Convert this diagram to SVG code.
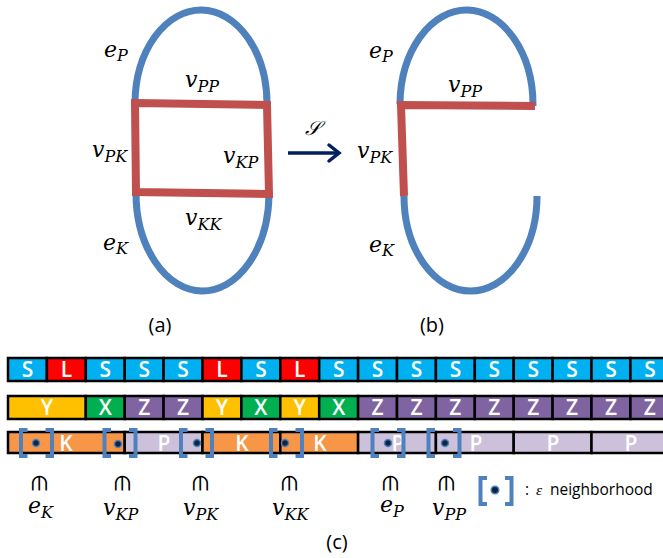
<svg xmlns="http://www.w3.org/2000/svg" width="663" height="558" viewBox="0 0 663 558">
<style>
.blue{fill:none;stroke:#4F81BD;stroke-width:7}
.red{fill:none;stroke:#C0504D;stroke-width:8;stroke-linejoin:miter}
.m{font-family:"DejaVu Serif","Liberation Serif",serif;font-style:italic;font-size:22px;fill:#000}
.s{font-size:16px}
.lab{font-family:"Open Sans","Liberation Sans",sans-serif;font-size:20px;fill:#000}
.leg{font-family:"Open Sans","Liberation Sans",sans-serif;font-size:15.5px;fill:#000}
.eps{font-family:"Liberation Serif",serif;font-style:italic}
.cell{stroke:#000;stroke-width:2.5}
.ct{font-family:"Open Sans","Liberation Sans",sans-serif;font-weight:600;font-size:21px;fill:#fff;text-anchor:middle}
.S{fill:#00B0F0}.L{fill:#FF0000}.Y{fill:#FFC000}.X{fill:#00B050}.Z{fill:#8064A2}.K{fill:#F79646}.P{fill:#CCC0DA}
.br{fill:none;stroke:#4F81BD;stroke-width:4}
.dot{fill:#0F243E;stroke:#4F81BD;stroke-width:1.5}
.el{font-family:"DejaVu Sans",sans-serif;font-size:21px;fill:#000;text-anchor:middle}
</style>
<defs>
<path id="brk" class="br" d="M-9,-13 H-15.5 V13 H-9 M9,-13 H15.5 V13 H9"/>
</defs>

<g id="panel-a">
  <path class="blue" d="M135,103 A66,94 0 0 1 267,105"/>
  <path class="blue" d="M136,192 A66.5,98 0 0 0 269,194"/>
  <polygon class="red" points="135,103 267,105 269,194 136,192"/>
  <text class="m" x="104" y="57">e<tspan class="s" dy="4">P</tspan></text>
  <text class="m" x="185" y="87">v<tspan class="s" dy="5">PP</tspan></text>
  <text class="m" x="92" y="157">v<tspan class="s" dy="5">PK</tspan></text>
  <text class="m" x="223" y="163">v<tspan class="s" dy="5">KP</tspan></text>
  <text class="m" x="185" y="225">v<tspan class="s" dy="5">KK</tspan></text>
  <text class="m" x="103" y="250">e<tspan class="s" dy="4">K</tspan></text>
  <text class="lab" x="160" y="332" text-anchor="middle">(a)</text>
</g>

<g id="connectors">
  <path d="M288,153 H338" stroke="#002060" stroke-width="3.5" fill="none"/>
  <path d="M329,145 L339,153 L329,161" stroke="#002060" stroke-width="3.5" fill="none" stroke-linecap="round"/>
  <text class="m" x="305" y="135" style="font-size:20px">𝒮</text>
</g>

<g id="panel-b">
  <path class="blue" d="M400,104 A66.5,95 0 0 1 533,106"/>
  <path class="blue" d="M404,196 A66.5,95 0 0 0 537,196"/>
  <polyline class="red" points="535,106 401,105 404,196"/>
  <text class="m" x="369" y="58">e<tspan class="s" dy="4">P</tspan></text>
  <text class="m" x="448" y="92">v<tspan class="s" dy="5">PP</tspan></text>
  <text class="m" x="357" y="158">v<tspan class="s" dy="5">PK</tspan></text>
  <text class="m" x="369" y="252">e<tspan class="s" dy="4">K</tspan></text>
  <text class="lab" x="432" y="332" text-anchor="middle">(b)</text>
</g>

<g id="row-1">
  <rect class="cell S" x="8" y="358" width="38.9" height="23"/>
  <rect class="cell L" x="46.9" y="358" width="38.9" height="23"/>
  <rect class="cell S" x="85.8" y="358" width="38.9" height="23"/>
  <rect class="cell S" x="124.7" y="358" width="38.9" height="23"/>
  <rect class="cell S" x="163.6" y="358" width="38.9" height="23"/>
  <rect class="cell L" x="202.5" y="358" width="38.9" height="23"/>
  <rect class="cell S" x="241.4" y="358" width="38.9" height="23"/>
  <rect class="cell L" x="280.3" y="358" width="38.9" height="23"/>
  <rect class="cell S" x="319.2" y="358" width="38.9" height="23"/>
  <rect class="cell S" x="358.1" y="358" width="38.9" height="23"/>
  <rect class="cell S" x="397" y="358" width="38.9" height="23"/>
  <rect class="cell S" x="435.9" y="358" width="38.9" height="23"/>
  <rect class="cell S" x="474.8" y="358" width="38.9" height="23"/>
  <rect class="cell S" x="513.7" y="358" width="38.9" height="23"/>
  <rect class="cell S" x="552.6" y="358" width="38.9" height="23"/>
  <rect class="cell S" x="591.5" y="358" width="38.9" height="23"/>
  <rect class="cell S" x="630.4" y="358" width="38.9" height="23"/>
  <text class="ct" y="377"><tspan x="27.5">S</tspan><tspan x="66.4">L</tspan><tspan x="105.3">S</tspan><tspan x="144.2">S</tspan><tspan x="183.1">S</tspan><tspan x="222">L</tspan><tspan x="260.9">S</tspan><tspan x="299.8">L</tspan><tspan x="338.7">S</tspan><tspan x="377.6">S</tspan><tspan x="416.5">S</tspan><tspan x="455.4">S</tspan><tspan x="494.3">S</tspan><tspan x="533.2">S</tspan><tspan x="572.1">S</tspan><tspan x="611">S</tspan><tspan x="649.9">S</tspan></text>
</g>

<g id="row-2">
  <rect class="cell Y" x="8" y="396" width="77.8" height="23"/>
  <rect class="cell X" x="85.8" y="396" width="38.9" height="23"/>
  <rect class="cell Z" x="124.7" y="396" width="38.9" height="23"/>
  <rect class="cell Z" x="163.6" y="396" width="38.9" height="23"/>
  <rect class="cell Y" x="202.5" y="396" width="38.9" height="23"/>
  <rect class="cell X" x="241.4" y="396" width="38.9" height="23"/>
  <rect class="cell Y" x="280.3" y="396" width="38.9" height="23"/>
  <rect class="cell X" x="319.2" y="396" width="38.9" height="23"/>
  <rect class="cell Z" x="358.1" y="396" width="38.9" height="23"/>
  <rect class="cell Z" x="397" y="396" width="38.9" height="23"/>
  <rect class="cell Z" x="435.9" y="396" width="38.9" height="23"/>
  <rect class="cell Z" x="474.8" y="396" width="38.9" height="23"/>
  <rect class="cell Z" x="513.7" y="396" width="38.9" height="23"/>
  <rect class="cell Z" x="552.6" y="396" width="38.9" height="23"/>
  <rect class="cell Z" x="591.5" y="396" width="38.9" height="23"/>
  <rect class="cell Z" x="630.4" y="396" width="38.9" height="23"/>
  <text class="ct" y="415"><tspan x="47">Y</tspan><tspan x="105.3">X</tspan><tspan x="144.2">Z</tspan><tspan x="183.1">Z</tspan><tspan x="222">Y</tspan><tspan x="260.9">X</tspan><tspan x="299.8">Y</tspan><tspan x="338.7">X</tspan><tspan x="377.6">Z</tspan><tspan x="416.5">Z</tspan><tspan x="455.4">Z</tspan><tspan x="494.3">Z</tspan><tspan x="533.2">Z</tspan><tspan x="572.1">Z</tspan><tspan x="611">Z</tspan><tspan x="649.9">Z</tspan></text>
</g>

<g id="row-3">
  <rect class="cell K" x="8" y="432" width="116.7" height="21"/>
  <rect class="cell P" x="124.7" y="432" width="77.8" height="21"/>
  <rect class="cell K" x="202.5" y="432" width="77.8" height="21"/>
  <rect class="cell K" x="280.3" y="432" width="77.8" height="21"/>
  <rect class="cell P" x="358.1" y="432" width="77.8" height="21"/>
  <rect class="cell P" x="435.9" y="432" width="77.8" height="21"/>
  <rect class="cell P" x="513.7" y="432" width="77.8" height="21"/>
  <rect class="cell P" x="591.5" y="432" width="77.8" height="21"/>
  <text class="ct" y="451"><tspan x="66">K</tspan><tspan x="164">P</tspan><tspan x="242">K</tspan><tspan x="320">K</tspan><tspan x="398">P</tspan><tspan x="476">P</tspan><tspan x="553">P</tspan><tspan x="631">P</tspan></text>
</g>

<g id="neighborhoods">
  <use href="#brk" x="36.5" y="443"/><circle class="dot" cx="36" cy="443" r="3.5"/>
  <use href="#brk" x="120" y="443"/><circle class="dot" cx="118" cy="444" r="3.5"/>
  <use href="#brk" x="196.5" y="443"/><circle class="dot" cx="197" cy="443" r="3.5"/>
  <use href="#brk" x="286.5" y="443"/><circle class="dot" cx="285" cy="443" r="3.5"/>
  <use href="#brk" x="388" y="443"/><circle class="dot" cx="388" cy="443" r="3.5"/>
  <use href="#brk" x="444" y="443"/><circle class="dot" cx="445" cy="443" r="3.5"/>
</g>

<g id="labels-c">
  <text class="el" transform="translate(38,483) rotate(90)" dy="0.3em">∈</text>
  <text class="el" transform="translate(121,483) rotate(90)" dy="0.3em">∈</text>
  <text class="el" transform="translate(199,483) rotate(90)" dy="0.3em">∈</text>
  <text class="el" transform="translate(288,483) rotate(90)" dy="0.3em">∈</text>
  <text class="el" transform="translate(389,483) rotate(90)" dy="0.3em">∈</text>
  <text class="el" transform="translate(445,483) rotate(90)" dy="0.3em">∈</text>
  <text class="m" x="28" y="513">e<tspan class="s" dy="5">K</tspan></text>
  <text class="m" x="103" y="515">v<tspan class="s" dy="5">KP</tspan></text>
  <text class="m" x="183" y="515">v<tspan class="s" dy="5">PK</tspan></text>
  <text class="m" x="272" y="515">v<tspan class="s" dy="5">KK</tspan></text>
  <text class="m" x="380" y="512">e<tspan class="s" dy="5">P</tspan></text>
  <text class="m" x="432" y="515">v<tspan class="s" dy="5">PP</tspan></text>
  <text class="lab" x="337" y="549" text-anchor="middle">(c)</text>
</g>

<g id="legend">
  <use href="#brk" x="496" y="491"/>
  <circle class="dot" cx="495" cy="490" r="3.8"/>
  <text class="leg" x="525" y="495">:<tspan class="eps" x="536">ε</tspan><tspan x="550">neighborhood</tspan></text>
</g>
</svg>
